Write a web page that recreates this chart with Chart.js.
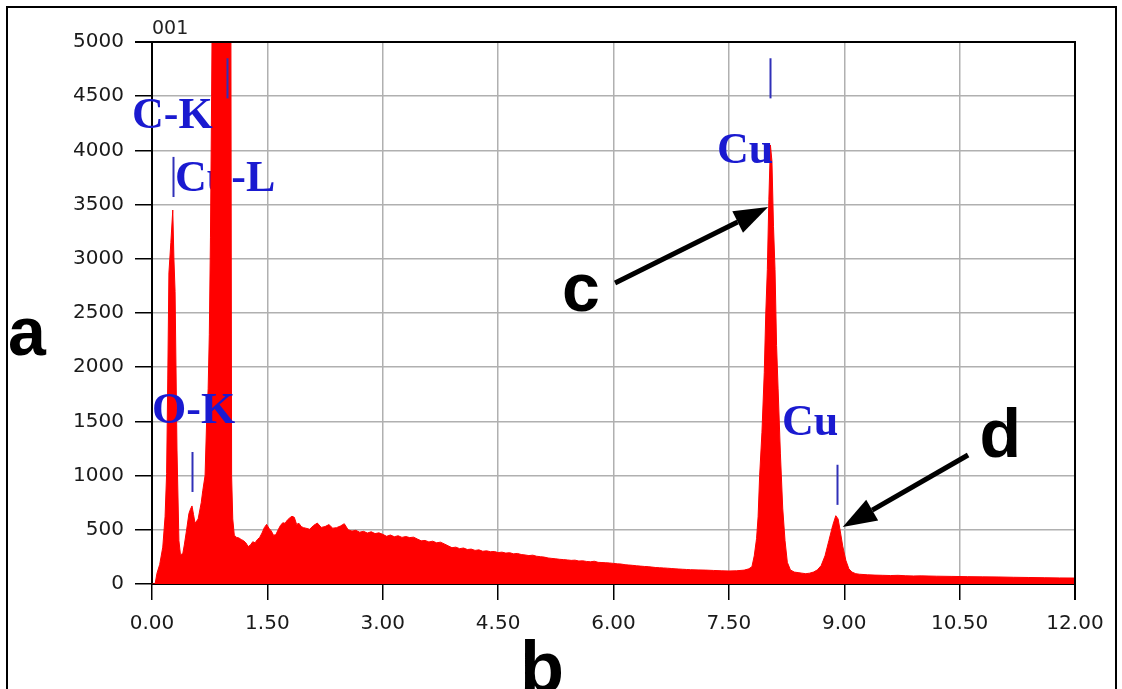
<!DOCTYPE html>
<html>
<head>
<meta charset="utf-8">
<script src="https://cdn.jsdelivr.net/npm/chart.js@4"></script>
<style>
  body { margin: 0; background: #fff; }
</style>
</head>
<body>
<canvas id="edschart" width="1122" height="689"></canvas>
<script>
// spectrum: energy (keV) and counts
const energy = [
  0.00, 0.04, 0.065, 0.10, 0.14, 0.17, 0.19, 0.205, 0.22, 0.245, 0.27, 0.285, 0.30, 0.325, 0.35, 0.37,
  0.40, 0.42, 0.45, 0.48, 0.50, 0.52, 0.54, 0.56, 0.60, 0.64, 0.66, 0.69, 0.71, 0.73, 0.745, 0.76, 0.775,
  0.79, 0.85, 0.90, 0.93, 0.96, 1.01, 1.025, 1.035, 1.05, 1.07, 1.10, 1.13, 1.16, 1.19, 1.22, 1.25, 1.28, 1.31, 1.34,
  1.37, 1.40, 1.43, 1.46, 1.49, 1.52, 1.55, 1.58, 1.61, 1.64, 1.67, 1.70, 1.73, 1.76, 1.79, 1.82, 1.85, 1.88, 1.91, 1.94, 1.97,
  2.00, 2.05, 2.10, 2.15, 2.20, 2.25, 2.30, 2.35, 2.40, 2.45, 2.50, 2.55, 2.60, 2.65, 2.70, 2.75, 2.80, 2.85, 2.90, 2.95,
  3.00, 3.05, 3.10, 3.15, 3.20, 3.25, 3.30, 3.35, 3.40, 3.45, 3.50, 3.55, 3.60, 3.65, 3.70, 3.75, 3.80, 3.85, 3.90, 3.95,
  4.00, 4.05, 4.10, 4.15, 4.20, 4.25, 4.30, 4.35, 4.40, 4.45, 4.50, 4.55, 4.60, 4.65, 4.70, 4.75, 4.80, 4.85, 4.90, 4.95,
  5.00, 5.05, 5.10, 5.15, 5.20, 5.25, 5.30, 5.35, 5.40, 5.45, 5.50, 5.55, 5.60, 5.65, 5.70, 5.75, 5.80, 5.85, 5.90, 5.95,
  6.00, 6.05, 6.10, 6.15, 6.20, 6.25, 6.30, 6.35, 6.40, 6.45, 6.50, 6.55, 6.60, 6.65, 6.70, 6.75, 6.80, 6.85, 6.90, 6.95,
  7.00, 7.10, 7.20, 7.30, 7.40, 7.50, 7.60, 7.70, 7.76, 7.80, 7.83, 7.86, 7.88, 7.90, 7.93, 7.96, 7.98,
  8.00, 8.02, 8.04, 8.06, 8.08, 8.10, 8.12, 8.14, 8.17, 8.20, 8.23, 8.26, 8.30, 8.35, 8.40, 8.45, 8.50, 8.55, 8.60, 8.65,
  8.70, 8.75, 8.80, 8.85, 8.89, 8.92, 8.95, 8.98, 9.02, 9.06, 9.10, 9.15, 9.20, 9.30, 9.40, 9.50, 9.60, 9.70, 9.80, 9.90,
  10.00, 10.20, 10.40, 10.60, 10.80, 11.00, 11.20, 11.40, 11.60, 11.80, 12.00
];
const counts = [
  0, 0, 100, 180, 340, 620, 1020, 1900, 2870, 3150, 3450, 3000, 2700, 1236, 400, 270,
  280, 360, 500, 650, 690, 720, 640, 560, 600, 750, 860, 1000, 1500, 1800, 2300, 3200, 4500,
  6000, 9000, 9600, 9800, 9400, 8000, 5500, 1000, 600, 450, 430, 425, 410, 400, 380, 345, 360, 390, 380,
  410, 430, 470, 520, 550, 515, 490, 450, 455, 500, 540, 565, 560, 590, 610, 625, 615, 550, 560, 530, 520,
  515, 505, 540, 562, 522, 530, 548, 515, 520, 535, 556, 500, 488, 495, 478, 486, 470, 482, 465, 472,
  458, 440, 452, 436, 445, 430, 438, 428, 432, 415, 398, 402, 388, 395, 380, 386, 370, 352, 335, 340,
  326, 332, 318, 322, 310, 315, 302, 306, 298, 300, 290, 294, 285, 289, 278, 282, 272, 268, 262, 266,
  256, 252, 248, 240, 236, 232, 228, 225, 222, 218, 220, 212, 214, 208, 205, 210, 200, 198, 196, 194,
  190, 186, 184, 178, 175, 172, 168, 165, 162, 160, 156, 152, 150, 148, 146, 143, 140, 138, 136, 134,
  132, 130, 128, 125, 122, 120, 122, 128, 140, 160, 260, 420, 620, 1000, 1400, 1950, 2500,
  2900, 3550, 4050, 3900, 3300, 2900, 2200, 1800, 1200, 700, 400, 200, 130, 110, 105, 100, 95, 100, 110, 130,
  170, 260, 400, 540, 630, 600, 480, 350, 220, 140, 110, 95, 90, 85, 82, 80, 78, 80, 76, 74,
  75, 72, 70, 68, 66, 65, 62, 60, 58, 56, 55
];

// element labels (energy of left edge, counts at baseline)
const labelText = ["C-K", "Cu-L", "O-K", "Cu", "Cu"];
const labelX = [-0.26, 0.30, 0.0, 7.345, 8.19];
const labelY = [4207, 3625, 1485, 3884, 1375];

// small blue line markers: energy, counts from, counts to
const markerX = [0.275, 0.525, 0.975, 8.04, 8.90];
const markerFrom = [3570, 849, 4480, 4480, 730];
const markerTo = [3940, 1218, 4850, 4850, 1100];

// arrows pointing at the two Cu peaks
const arrowLetter = ["c", "d"];
const arrowLetterX = [5.33, 10.76];
const arrowLetterY = [2518, 1172];
const arrowFromX = [6.02, 10.61];
const arrowFromY = [2777, 1190];
const arrowToX = [8.01, 8.98];
const arrowToY = [3478, 526];

const points = energy.map((e, i) => ({ x: e, y: counts[i] }));

function drawArrow(ctx, x1, y1, x2, y2) {
  const ang = Math.atan2(y2 - y1, x2 - x1);
  const headLen = 34;
  const headW = 12;
  const bx = x2 - headLen * Math.cos(ang);
  const by = y2 - headLen * Math.sin(ang);
  ctx.strokeStyle = "#000";
  ctx.fillStyle = "#000";
  ctx.lineWidth = 5;
  ctx.beginPath();
  ctx.moveTo(x1, y1);
  ctx.lineTo(bx, by);
  ctx.stroke();
  ctx.beginPath();
  ctx.moveTo(x2, y2);
  ctx.lineTo(bx + headW * Math.sin(ang), by - headW * Math.cos(ang));
  ctx.lineTo(bx - headW * Math.sin(ang), by + headW * Math.cos(ang));
  ctx.closePath();
  ctx.fill();
}

const decorations = {
  id: "decorations",
  beforeDatasetsDraw(chart) {
    const { ctx, scales } = chart;
    // Cu-L label sits behind the red peak
    ctx.save();
    ctx.font = "bold 44px 'Liberation Serif'";
    ctx.fillStyle = "#1a1ad0";
    ctx.textBaseline = "alphabetic";
    ctx.fillText(labelText[1], scales.x.getPixelForValue(labelX[1]), scales.y.getPixelForValue(labelY[1]));
    ctx.restore();
  },
  afterDatasetsDraw(chart) {
    const { ctx, scales } = chart;
    const xs = scales.x, ys = scales.y;
    ctx.save();

    // frame lines on top and right of the plot
    ctx.strokeStyle = "#000";
    ctx.lineWidth = 2;
    ctx.beginPath();
    ctx.moveTo(xs.left - 17, ys.top);
    ctx.lineTo(xs.right, ys.top);
    ctx.lineTo(xs.right, ys.bottom + 16);
    ctx.stroke();

    // markers
    ctx.strokeStyle = "#3030b8";
    ctx.lineWidth = 2;
    markerX.forEach((m, i) => {
      const px = Math.round(xs.getPixelForValue(m)) + 0.5;
      ctx.beginPath();
      ctx.moveTo(px, ys.getPixelForValue(markerFrom[i]));
      ctx.lineTo(px, ys.getPixelForValue(markerTo[i]));
      ctx.stroke();
    });

    // element labels
    ctx.font = "bold 44px 'Liberation Serif'";
    ctx.fillStyle = "#1a1ad0";
    ctx.textBaseline = "alphabetic";
    labelText.forEach((t, i) => {
      if (i === 1) return;
      ctx.fillText(t, xs.getPixelForValue(labelX[i]), ys.getPixelForValue(labelY[i]));
    });

    // arrows and letters
    arrowLetter.forEach((t, i) => {
      drawArrow(ctx,
        xs.getPixelForValue(arrowFromX[i]), ys.getPixelForValue(arrowFromY[i]),
        xs.getPixelForValue(arrowToX[i]), ys.getPixelForValue(arrowToY[i]));
      ctx.font = "bold 68px 'Liberation Sans'";
      ctx.fillStyle = "#000";
      ctx.fillText(t, xs.getPixelForValue(arrowLetterX[i]), ys.getPixelForValue(arrowLetterY[i]));
    });

    // axis letters
    ctx.font = "bold 68px 'Liberation Sans'";
    ctx.fillStyle = "#000";
    ctx.fillText("a", 8, 355);
    ctx.font = "bold 72px 'Liberation Sans'";
    ctx.fillText("b", 520, 692);

    // spectrum id
    ctx.font = "19px 'DejaVu Sans'";
    ctx.fillStyle = "#222";
    ctx.fillText("001", 152, 34);

    // outer frame
    ctx.strokeStyle = "#000";
    ctx.lineWidth = 2;
    ctx.strokeRect(7, 7, 1109, 700);
    ctx.restore();
  },
};

const ctx = document.getElementById("edschart").getContext("2d");

new Chart(ctx, {
  type: "line",
  data: {
    datasets: [
      {
        data: points,
        borderColor: "#ff0000",
        backgroundColor: "#ff0000",
        borderWidth: 1,
        fill: "origin",
        pointRadius: 0,
        tension: 0,
      },
    ],
  },
  options: {
    responsive: false,
    animation: false,
    events: [],
    layout: {
      padding: { top: 42, right: 47, bottom: 0, left: 0 },
    },
    plugins: {
      legend: { display: false },
      tooltip: { enabled: false },
    },
    scales: {
      x: {
        type: "linear",
        min: 0,
        max: 12,
        afterFit: (scale) => { scale.height = 105; },
        border: { color: "#000", width: 2 },
        grid: {
          color: (c) => (c.tick && c.tick.value === 12 ? "#000" : "#b0b0b0"),
          lineWidth: 1.5,
          tickColor: "#000",
          tickLength: 16,
        },
        ticks: {
          stepSize: 1.5,
          autoSkip: false,
          maxRotation: 0,
          padding: 12,
          color: "#1a1a1a",
          font: { family: "'DejaVu Sans'", size: 20 },
          callback: (v) => Number(v).toFixed(2),
        },
      },
      y: {
        min: 0,
        max: 5000,
        afterFit: (scale) => { scale.width = 152; },
        border: { color: "#000", width: 2 },
        grid: {
          color: (c) => (c.tick && c.tick.value === 5000 ? "#000" : "#b0b0b0"),
          lineWidth: 1.5,
          tickColor: "#000",
          tickLength: 17,
        },
        ticks: {
          stepSize: 500,
          padding: 11,
          color: "#1a1a1a",
          font: { family: "'DejaVu Sans'", size: 20 },
          callback: (v) => String(v),
        },
      },
    },
  },
  plugins: [decorations],
});
</script>
</body>
</html>
